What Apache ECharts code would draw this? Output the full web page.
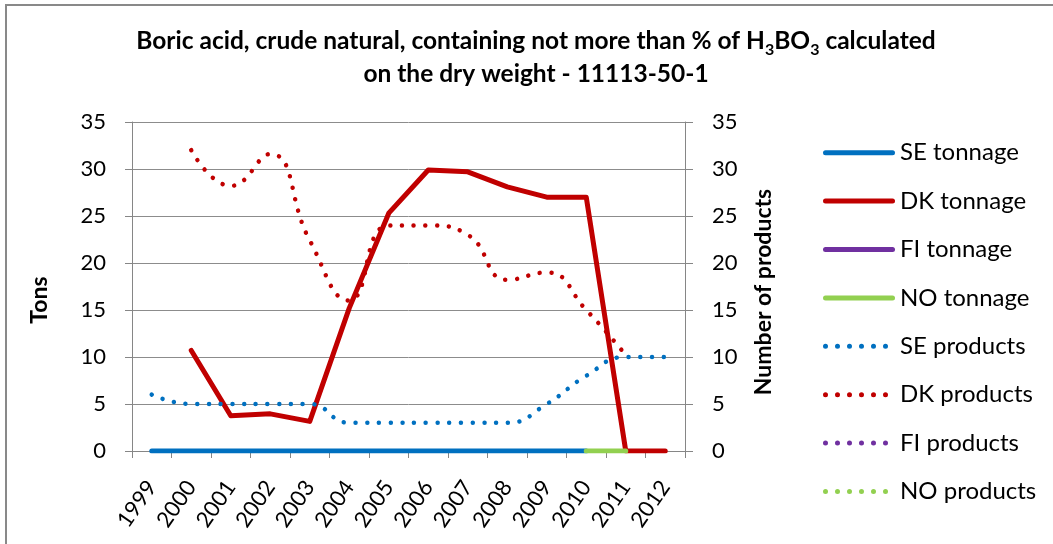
<!DOCTYPE html>
<html>
<head>
<meta charset="utf-8">
<script src="https://cdn.jsdelivr.net/npm/echarts@6/dist/echarts.min.js"></script>
<style>
html,body{margin:0;padding:0;background:#fff;}
#chart{width:1053px;height:544px;}
</style>
</head>
<body>
<div id="chart"></div>
<script>
// ---- data ----
const years = ['1999','2000','2001','2002','2003','2004','2005','2006','2007','2008','2009','2010','2011','2012'];
const seTonnage = [0,0,0,0,0,0,0,0,0,0,0,0,null,null];
const dkTonnage = [null,10.7,3.75,3.95,3.15,15.2,25.3,29.9,29.7,28.1,27.0,27.0,0,0];
const fiTonnage = [null,null,null,null,null,null,null,null,null,null,null,null,null,null];
const noTonnage = [null,null,null,null,null,null,null,null,null,null,null,0,0,null];
const seProducts = [6,5,5,5,5,3,3,3,3,3,5,8,10,10];
const dkProducts = [null,32,28.2,31.6,22.4,16,24,24,23,18.2,19,15,10.2,null];
const fiProducts = [null,null,null,null,null,null,null,null,null,null,null,null,null,null];
const noProducts = [null,null,null,null,null,null,null,null,null,null,null,null,null,null];
const yTicks = {min:0, max:35, interval:5};
const tonnageNames = ['SE tonnage','DK tonnage','FI tonnage','NO tonnage'];
const productNames = ['SE products','DK products','FI products','NO products'];

const C = {se:'#0070C0', dk:'#C00000', fi:'#7030A0', no:'#92D050'};
const FONT = 'Lato';
const gridColor = '#8c8c8c';

function solid(name, data, color){
  return {name, type:'line', data, yAxisIndex:0, symbol:'none', showSymbol:false,
    color, itemStyle:{color},
    lineStyle:{color, width:5, cap:'round', join:'round'}, z:2};
}
function dotted(name, data, color){
  return {name, type:'line', data, yAxisIndex:1, symbol:'none', showSymbol:false,
    smooth:0.5, color, itemStyle:{color},
    lineStyle:{color, width:4.5, type:[0.01, 11.7], cap:'round'}, z:3};
}

// legend icons (shapes only)
const solidIcon = 'path://M2.5,0 L69.5,0 A2.5,2.5 0 0 1 69.5,5 L2.5,5 A2.5,2.5 0 0 1 2.5,0 Z';
let dots = '';
for (let k = 0; k < 6; k++) {
  const cx = 2.5 + k * 12;
  dots += 'M' + (cx - 2.5) + ',2.5 A2.5,2.5 0 1 0 ' + (cx + 2.5) + ',2.5 A2.5,2.5 0 1 0 ' + (cx - 2.5) + ',2.5 Z ';
}
dots += 'M72,2.5 L72,2.5 Z';
const dotIcon = 'path://' + dots;

const chart = echarts.init(document.getElementById('chart'), null, {renderer:'canvas'});
const axisCommon = {
  type:'value', min:yTicks.min, max:yTicks.max, interval:yTicks.interval,
  axisLine:{show:true, lineStyle:{color:'#868686', width:1}},
  axisLabel:{fontFamily:FONT, fontSize:22, color:'#000'},
};
chart.setOption({
  animation:false,
  backgroundColor:'#fff',
  textStyle:{fontFamily:FONT},
  grid:{left:132, right:368, top:122, bottom:93, containLabel:false},
  xAxis:{
    type:'category', data:years, boundaryGap:true,
    axisLine:{show:true, lineStyle:{color:'#868686', width:1}},
    axisTick:{show:true, length:7, interval:0, lineStyle:{color:'#868686'}},
    axisLabel:{rotate:55, interval:0, margin:32, fontFamily:FONT, fontSize:22, color:'#000'}
  },
  yAxis:[
    Object.assign({}, axisCommon, {position:'left',
      axisTick:{show:true, length:7, lineStyle:{color:'#868686'}},
      axisLabel:Object.assign({}, axisCommon.axisLabel, {margin:26}),
      splitLine:{show:true, lineStyle:{color:gridColor, width:1}}}),
    Object.assign({}, axisCommon, {position:'right',
      axisTick:{show:true, length:8, lineStyle:{color:'#868686'}},
      axisLabel:Object.assign({}, axisCommon.axisLabel, {margin:27}),
      splitLine:{show:false}})
  ],
  legend:{
    orient:'vertical', left:823, top:140.7, padding:0,
    itemWidth:72, itemHeight:5, itemGap:24.4,
    textStyle:{fontFamily:FONT, fontSize:24, color:'#000', lineHeight:22},
    data:tonnageNames.map(n => ({name:n, icon:solidIcon}))
        .concat(productNames.map(n => ({name:n, icon:dotIcon})))
  },
  graphic:[
    {type:'rect', shape:{x:6, y:5, width:2000, height:2000}, style:{fill:null, stroke:'#898989', lineWidth:2}, z:-10, silent:true},
    {type:'text', x:536, y:25, style:{
      text:'{b|Boric acid, crude natural, containing not more than % of H}{s|3}{b|BO}{s|3}{b| calculated}\n{b|on the dry weight - 11113-50-1}',
      align:'center', verticalAlign:'top', fill:'#000',
      rich:{
        b:{fontFamily:FONT, fontSize:24.5, fontWeight:'bold', lineHeight:33, fill:'#000'},
        s:{fontFamily:FONT, fontSize:16, fontWeight:'bold', lineHeight:22, verticalAlign:'bottom', fill:'#000'}
      }}},
    {type:'text', x:40, y:300, rotation:Math.PI/2, style:{text:'Tons', font:'bold 23px Lato', align:'center', verticalAlign:'middle', fill:'#000'}},
    {type:'text', x:764, y:292, rotation:Math.PI/2, style:{text:'Number of products', font:'bold 23px Lato', align:'center', verticalAlign:'middle', fill:'#000'}}
  ],
  series:[
    solid('SE tonnage', seTonnage, C.se),
    solid('DK tonnage', dkTonnage, C.dk),
    solid('FI tonnage', fiTonnage, C.fi),
    solid('NO tonnage', noTonnage, C.no),
    dotted('SE products', seProducts, C.se),
    dotted('DK products', dkProducts, C.dk),
    dotted('FI products', fiProducts, C.fi),
    dotted('NO products', noProducts, C.no)
  ]
});
</script>
</body>
</html>
